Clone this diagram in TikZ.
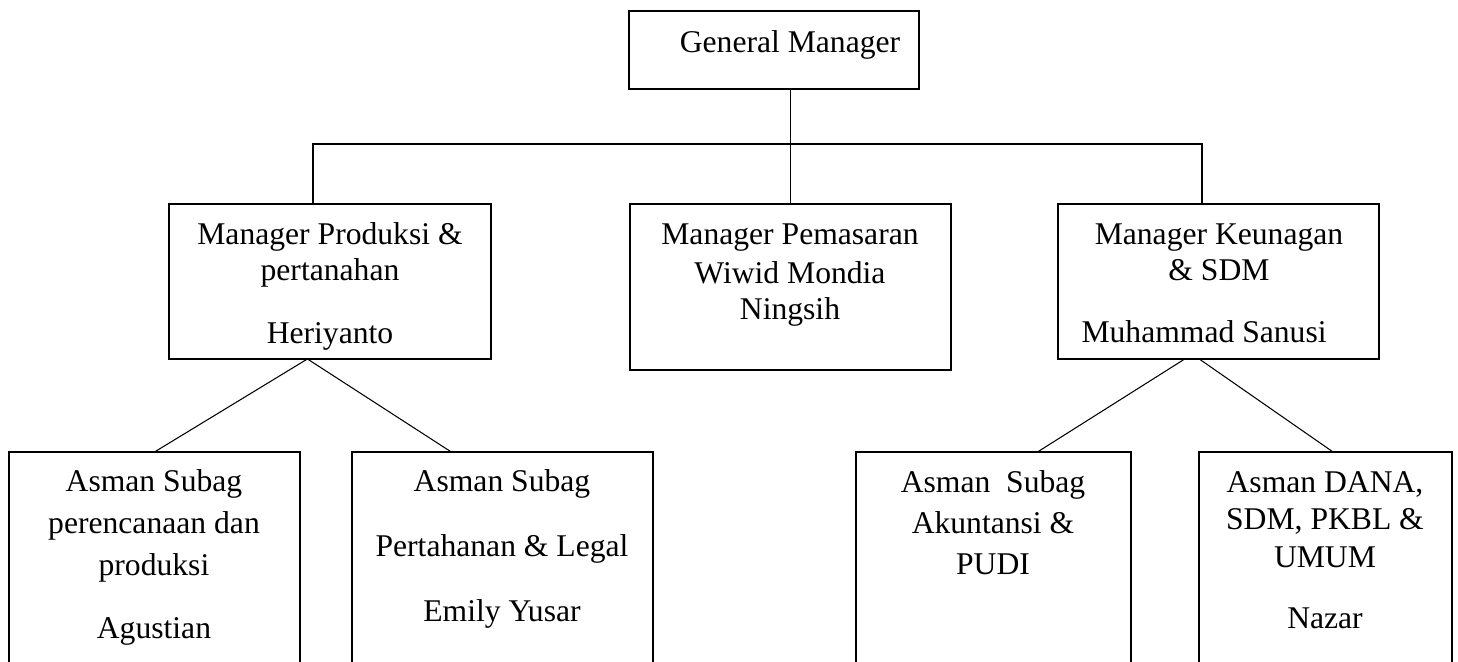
\documentclass[tikz,border=0pt]{standalone}
\usepackage{fontspec}
\setmainfont{Liberation Serif}
\usetikzlibrary{calc}

\begin{document}
\begin{tikzpicture}
      [x=.02cm,y=-.02cm
      ,box/.style={draw,line width=1.6pt,anchor=north west,inner sep=0pt,outer sep=0pt}
      ,txt/.style={anchor=base,align=center,inner sep=0pt,font=\fontsize{18}{20.5}\selectfont}
      ,lin/.style={line width=.6pt}
      ]
        \clip (0,0) rectangle (1458,662);
        % boxes
        \node[box,minimum width=5.8cm,minimum height=1.56cm] (gm) at (629,11) {};
        \node[box,minimum width=6.44cm,minimum height=3.1cm] (mgrA) at (169,204) {};
        \node[box,minimum width=6.42cm,minimum height=3.32cm] (mgrB) at (630,204) {};
        \node[box,minimum width=6.42cm,minimum height=3.1cm] (mgrC) at (1058,204) {};
        \node[box,minimum width=5.82cm,minimum height=4.6cm] (subA1) at (9,452) {};
        \node[box,minimum width=6.02cm,minimum height=4.6cm] (subA2) at (352,452) {};
        \node[box,minimum width=5.5cm,minimum height=4.6cm] (subC1) at (856,452) {};
        \node[box,minimum width=5.06cm,minimum height=4.6cm] (subC2) at (1199,452) {};
        % texts (anchored at the last baseline)
        \node[txt] (gmT) at (790,53) {General Manager};
        \node[txt] (mgrAT) at (330,344) {Manager Produksi \&\\pertanahan\\[15.4pt]Heriyanto};
        \node[txt] (mgrBT) at (790,320) {Manager Pemasaran\\[1.7pt]Wiwid Mondia\\Ningsih};
        \node[txt] (mgrCT) at (1219,343) {Manager Keunagan\\\& SDM\\[15.3pt]Muhammad Sanusi\rule{17pt}{0pt}};
        \node[txt] (subA1T) at (154,638) {Asman Subag\\[3.4pt]perencanaan dan\\[3.4pt]produksi\\[14.8pt]Agustian};
        \node[txt] (subA2T) at (502,621) {Asman Subag\\[16.5pt]Pertahanan \& Legal\\[16pt]Emily Yusar};
        \node[txt] (subC1T) at (993,574) {Asman~ Subag\\[2.8pt]Akuntansi \&\\[2.8pt]PUDI};
        \node[txt] (subC2T) at (1325,628) {Asman DANA,\\[1.1pt]SDM, PKBL \&\\[1.1pt]UMUM\\[13.7pt]Nazar};
        % lines
        \coordinate (busL) at (313,144);
        \coordinate (busR) at (1202,144);
        \draw[lin] (mgrB.north) -- (mgrB.north |- gm.south);
        \draw[lin] (mgrA.north -| busL) -- (busL) -- (busR) -- (mgrC.north -| busR);
        \draw[lin] ($(mgrA.south west)!.43!(mgrA.south east)$) -- (subA1.north);
        \draw[lin] ($(mgrA.south west)!.43!(mgrA.south east)$) -- ($(subA2.north west)!.33!(subA2.north east)$);
        \draw[lin] ($(mgrC.south west)!.395!(mgrC.south east)$) -- ($(subC1.north west)!.66!(subC1.north east)$);
        \draw[lin] ($(mgrC.south west)!.44!(mgrC.south east)$) -- ($(subC2.north west)!.53!(subC2.north east)$);
\end{tikzpicture}
\end{document}
